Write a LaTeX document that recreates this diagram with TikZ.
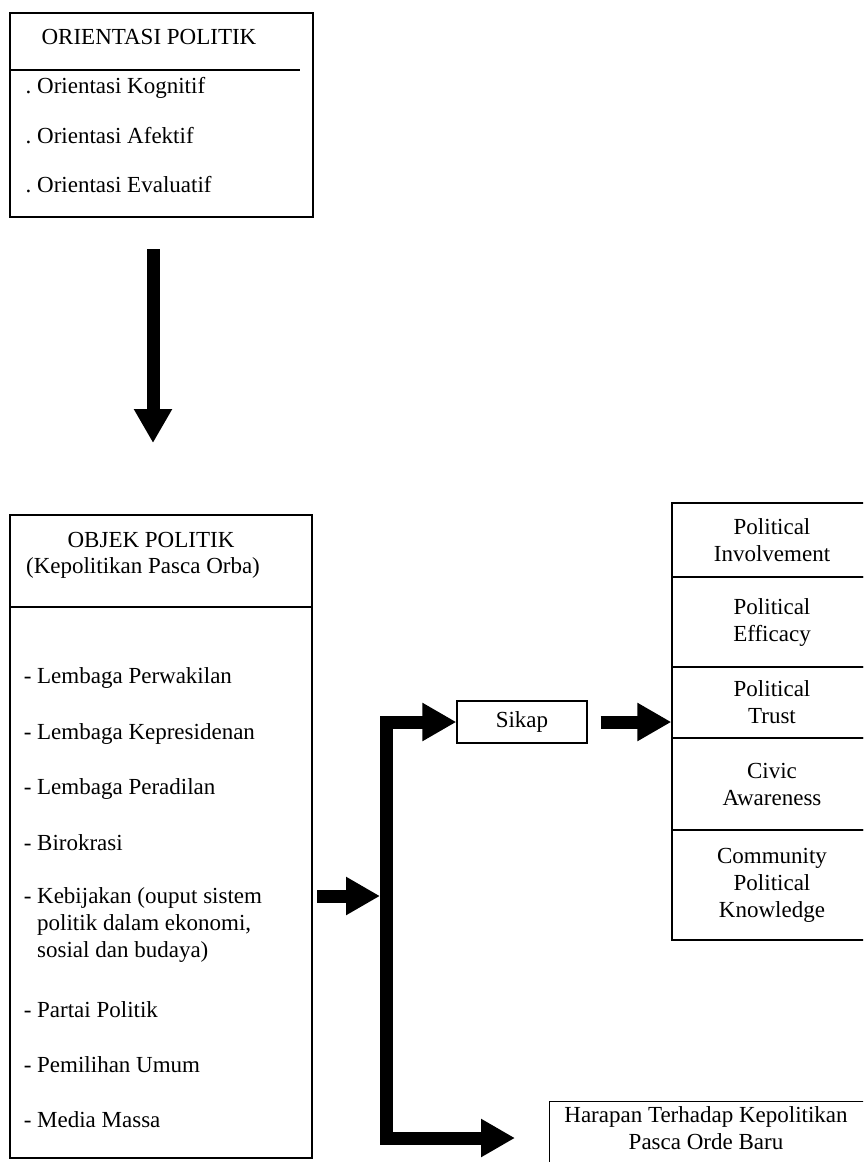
\documentclass[tikz,border=0pt]{standalone}
\usepackage{fontspec}
\setmainfont{Liberation Serif}
\usetikzlibrary{arrows.meta}
\begin{document}
\begin{tikzpicture}[x=1pt,y=-1pt,font=\fontsize{23}{27}\selectfont,
    box/.style={draw,line width=1.3pt,inner sep=0pt},
    cell/.style={box,minimum width=200pt,align=center},
    item/.style={anchor=base west,inner sep=0pt},
    bigarrow/.style={line width=13pt,-{Triangle[length=34pt,width=36pt]}}]
  \useasboundingbox (0,0) rectangle (863,1162);
  \clip (0,0) rectangle (863,1162);
  % orientasi
  \node[box,minimum width=303pt,minimum height=204pt] (orient) at (161.5,115) {};
  \node[anchor=base,inner sep=0pt] (orienttitle) at (149,44) {ORIENTASI POLITIK};
  \draw[line width=1.3pt] (10,70) -- (300,70);
  \foreach \n/\y/\t in {kognitif/93/Kognitif,afektif/143/Afektif,evaluatif/192/Evaluatif}
    \node[item] (\n) at (37,\y) {\llap{.\ }Orientasi \t};
  \coordinate (downtop) at (153,249);
  \coordinate (downtip) at (153,443);
  \draw[bigarrow] (downtop) -- (downtip);
  % objek
  \node[box,minimum width=302pt,minimum height=643pt] (objek) at (161,836.5) {};
  \node[anchor=base,inner sep=0pt] (objtitle) at (151,547) {OBJEK POLITIK};
  \node[anchor=base,inner sep=0pt] (objsub) at (143,573) {(Kepolitikan Pasca Orba)};
  \draw[line width=1.3pt] (10,607) -- (312,607);
  \foreach \n/\y/\t in {perwakilan/683/Lembaga Perwakilan,presiden/739/Lembaga Kepresidenan,
                        peradilan/794/Lembaga Peradilan,birokrasi/850/Birokrasi,
                        kebijakan/903/{Kebijakan (ouput sistem\\politik dalam ekonomi,\\sosial dan budaya)},
                        partai/1017/Partai Politik,pemilu/1072/Pemilihan Umum,media/1127/Media Massa}
    \node[item] (\n) at (37,\y) {\llap{-\ }\begin{tabular}[t]{@{}l@{}}\t\end{tabular}};
  % sikap dan sikap politik
  \node[box,minimum width=130pt,minimum height=42pt] (sikap) at (522,722) {Sikap};
  \node[cell,minimum height=74pt] (involve) at (772,540) {Political\\Involvement};
  \node[cell,minimum height=90pt] (efficacy) at (772,622) {Political\\Efficacy};
  \node[cell,minimum height=71pt] (trust) at (772,702.5) {Political\\Trust};
  \node[cell,minimum height=92pt] (civic) at (772,784) {Civic\\Awareness};
  \node[cell,minimum height=110pt] (community) at (772,885) {Community\\Political\\Knowledge};
  % harapan
  \node[box,anchor=north west,minimum width=400pt,minimum height=120pt] (harapan) at (549,1101) {};
  \node[anchor=base,inner sep=0pt] (harapantxt) at (706,1122)
    {\begin{tabular}[t]{@{}c@{}}Harapan Terhadap Kepolitikan\\Pasca Orde Baru\end{tabular}};
  % panah
  \coordinate (objout) at (317,896);
  \coordinate (barin) at (380,896);
  \coordinate (bartop) at (386,722);
  \coordinate (barbot) at (386,1138);
  \coordinate (haraptip) at (515,1138);
  \draw[bigarrow] (objout) -- (barin);
  \draw[line width=13pt,line join=miter,
        {Triangle[length=34pt,width=36pt]}-{Triangle[length=34pt,width=36pt]}]
    (sikap.west) -- (bartop) -- (barbot) -- (haraptip);
  \draw[bigarrow] ([xshift=13pt]sikap.east) -- (sikap.east -| trust.west);
\end{tikzpicture}
\end{document}
